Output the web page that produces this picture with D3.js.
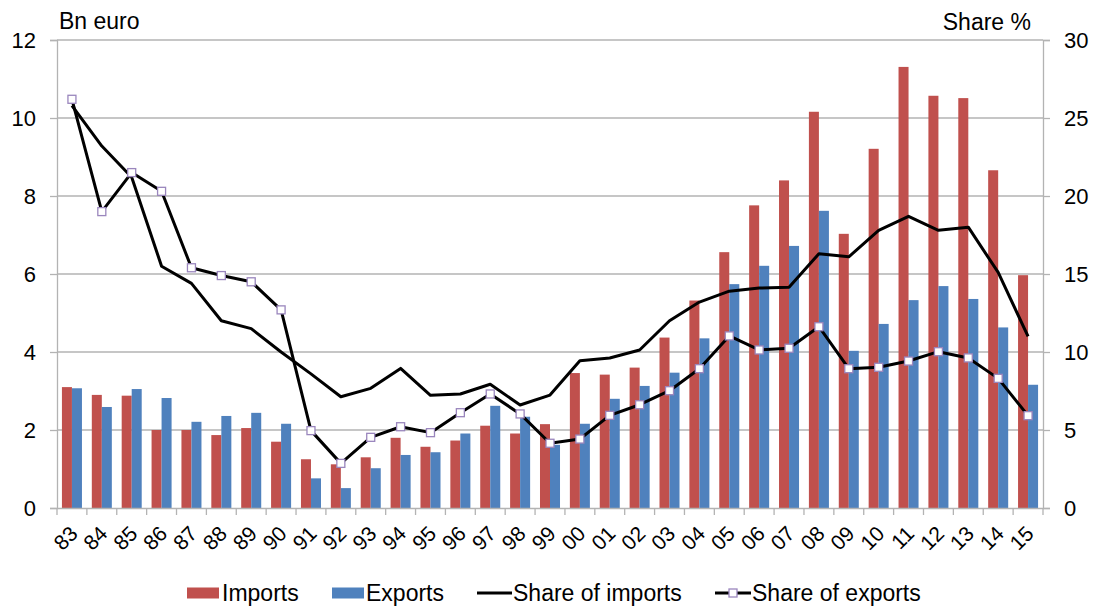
<!DOCTYPE html>
<html>
<head>
<meta charset="utf-8">
<script src="https://cdn.jsdelivr.net/npm/d3@7"></script>
<style>
  body { margin: 0; background: #fff; }
  text { font-family: "Liberation Sans", Arial, sans-serif; fill: #000; }
</style>
</head>
<body>
<script>
// years on the x axis
var years = ["83","84","85","86","87","88","89","90","91","92","93","94","95","96","97","98","99",
             "00","01","02","03","04","05","06","07","08","09","10","11","12","13","14","15"];

// Bn euro
var imports = [3.1, 2.9, 2.88, 2.0, 2.0, 1.87, 2.05, 1.7, 1.25, 1.12, 1.3, 1.8, 1.57, 1.73, 2.11, 1.91, 2.15,
               3.46, 3.42, 3.6, 4.37, 5.32, 6.56, 7.76, 8.4, 10.16, 7.03, 9.21, 11.31, 10.57, 10.51, 8.66, 5.97];
var exports = [3.07, 2.59, 3.05, 2.82, 2.21, 2.36, 2.44, 2.16, 0.76, 0.51, 1.02, 1.36, 1.43, 1.91, 2.62, 2.34, 1.62,
               2.16, 2.8, 3.13, 3.47, 4.35, 5.74, 6.21, 6.72, 7.62, 4.03, 4.72, 5.33, 5.69, 5.36, 4.63, 3.16];

// share %
var shareImports = [25.8, 23.2, 21.2, 15.5, 14.4, 12.0, 11.5, 10.0, 8.6, 7.13, 7.67, 8.95, 7.22, 7.31, 7.93, 6.6, 7.24,
                    9.44, 9.62, 10.13, 12.0, 13.2, 13.9, 14.1, 14.15, 16.3, 16.1, 17.8, 18.7, 17.8, 18.0, 15.1, 11.0];
var shareExports = [26.2, 19.0, 21.5, 20.3, 15.4, 14.9, 14.5, 12.7, 4.96, 2.86, 4.53, 5.21, 4.83, 6.11, 7.31, 6.03, 4.15,
                    4.42, 5.94, 6.62, 7.52, 8.93, 11.03, 10.13, 10.24, 11.62, 8.93, 9.02, 9.42, 10.02, 9.62, 8.31, 5.92];

var leftTicks = [0, 2, 4, 6, 8, 10, 12];
var rightTicks = [0, 5, 10, 15, 20, 25, 30];

window.onload = function(){

	var w = 1094, h = 606;
	var mLeft = 57, mRight = 1043, mTop = 40, mBottom = 508;

	var svg = d3.select("body").append("svg")
		.attr("width", w)
		.attr("height", h);

	var x = d3.scaleBand()
		.domain(years)
		.range([mLeft, mRight])
		.padding(0);

	var y = d3.scaleLinear().domain([0, 12]).range([mBottom, mTop]);
	var y2 = d3.scaleLinear().domain([0, 30]).range([mBottom, mTop]);

	var bw = x.bandwidth() * 0.335; //each bar
	var red = "#c0504d", blue = "#4f81bd", gridCol = "#b3b3b3", markCol = "#9a86bd";

	//gridlines
	svg.append("g")
		.selectAll("line")
		.data(leftTicks.filter(function(d){ return d > 0; }))
		.enter().append("line")
		.attr("x1", mLeft).attr("x2", mRight)
		.attr("y1", function(d){ return y(d); })
		.attr("y2", function(d){ return y(d); })
		.style("stroke", gridCol)
		.style("stroke-width", 1.3);

	//bars
	function bars(vals, color, offset){
		svg.append("g").selectAll("rect")
			.data(vals)
			.enter().append("rect")
			.attr("x", function(d, i){ return x(years[i]) + x.bandwidth() / 2 + offset; })
			.attr("y", function(d){ return y(d); })
			.attr("width", bw)
			.attr("height", function(d){ return mBottom - y(d); })
			.style("fill", color);
	}
	bars(imports, red, -bw);
	bars(exports, blue, 0);

	//axes
	var axisL = svg.append("g")
		.attr("transform", "translate(" + mLeft + ",0)")
		.call(d3.axisLeft(y).tickValues(leftTicks).tickSize(7).tickPadding(14));
	var axisR = svg.append("g")
		.attr("transform", "translate(" + mRight + ",0)")
		.call(d3.axisRight(y2).tickValues(rightTicks).tickSize(7).tickPadding(14));
	var axisB = svg.append("g")
		.attr("transform", "translate(0," + mBottom + ")")
		.call(d3.axisBottom(x).tickSize(0).tickFormat(""));

	//category boundary ticks
	svg.append("g").selectAll("line")
		.data(years.concat(["end"]))
		.enter().append("line")
		.attr("x1", function(d, i){ return mLeft + i * x.step(); })
		.attr("x2", function(d, i){ return mLeft + i * x.step(); })
		.attr("y1", mBottom).attr("y2", mBottom + 7)
		.style("stroke", gridCol).style("stroke-width", 1.3);

	[axisL, axisR, axisB].forEach(function(a){
		a.selectAll("path.domain").style("stroke", gridCol).style("stroke-width", 1.3);
		a.selectAll(".tick line").style("stroke", gridCol).style("stroke-width", 1.3);
		a.selectAll("text").style("font-size", "22px").style("font-family", "Liberation Sans, Arial, sans-serif").style("fill", "#000");
	});

	//rotated year labels
	svg.append("g").selectAll("text")
		.data(years)
		.enter().append("text")
		.attr("text-anchor", "end")
		.attr("transform", function(d){
			return "translate(" + (x(d) + x.bandwidth() / 2 + 7) + "," + (mBottom + 27) + ") rotate(-45)";
		})
		.style("font-size", "21px")
		.text(function(d){ return d; });

	//lines
	var line = d3.line()
		.x(function(d, i){ return x(years[i]) + x.bandwidth() / 2; })
		.y(function(d){ return y2(d); });

	svg.append("path")
		.datum(shareImports)
		.attr("d", line)
		.style("fill", "none").style("stroke", "#000").style("stroke-width", 3)
		.style("stroke-linejoin", "round");
	svg.append("path")
		.datum(shareExports)
		.attr("d", line)
		.style("fill", "none").style("stroke", "#000").style("stroke-width", 3)
		.style("stroke-linejoin", "round");

	svg.append("g").selectAll("rect")
		.data(shareExports)
		.enter().append("rect")
		.attr("x", function(d, i){ return x(years[i]) + x.bandwidth() / 2 - 4; })
		.attr("y", function(d){ return y2(d) - 4; })
		.attr("width", 8).attr("height", 8)
		.style("fill", "#fff").style("stroke", markCol).style("stroke-width", 1.3);

	//axis titles
	svg.append("text").attr("x", 59).attr("y", 29).style("font-size", "23px").text("Bn euro");
	svg.append("text").attr("x", 1031).attr("y", 30).attr("text-anchor", "end").style("font-size", "23px").text("Share %");

	//legend
	var ly = 593;
	var legend = svg.append("g").style("font-size", "23px");
	legend.append("rect").attr("x", 187).attr("y", ly - 5.5).attr("width", 32).attr("height", 11).style("fill", red);
	legend.append("text").attr("x", 222).attr("y", ly).attr("dy", "0.35em").text("Imports");
	legend.append("rect").attr("x", 332).attr("y", ly - 5.5).attr("width", 32).attr("height", 11).style("fill", blue);
	legend.append("text").attr("x", 366).attr("y", ly).attr("dy", "0.35em").text("Exports");
	legend.append("line").attr("x1", 477).attr("x2", 512).attr("y1", ly).attr("y2", ly)
		.style("stroke", "#000").style("stroke-width", 3);
	legend.append("text").attr("x", 513).attr("y", ly).attr("dy", "0.35em").text("Share of imports");
	legend.append("line").attr("x1", 715).attr("x2", 751).attr("y1", ly).attr("y2", ly)
		.style("stroke", "#000").style("stroke-width", 3);
	legend.append("rect").attr("x", 729).attr("y", ly - 4).attr("width", 8).attr("height", 8)
		.style("fill", "#fff").style("stroke", markCol).style("stroke-width", 1.3);
	legend.append("text").attr("x", 752).attr("y", ly).attr("dy", "0.35em").text("Share of exports");
};
</script>
</body>
</html>
